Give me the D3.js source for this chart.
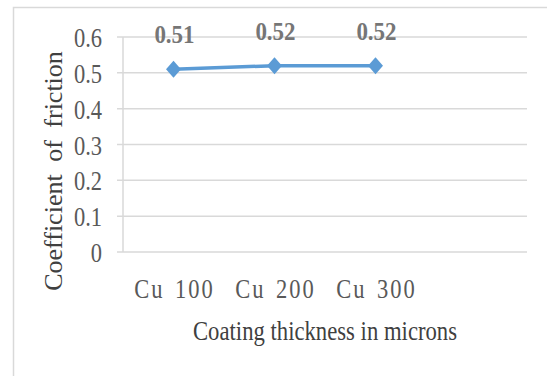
<!DOCTYPE html>
<html>
<head>
<meta charset="utf-8">
<script src="https://cdn.jsdelivr.net/npm/d3@7"></script>
<style>
  body { margin: 0; background: #fff; }
  svg { display: block; }
  text { font-family: "Liberation Serif", "Times New Roman", serif; }
</style>
</head>
<body>
<svg id="chart" width="547" height="376"></svg>
<script>
var categories = ['Cu 100', 'Cu 200', 'Cu 300'];
var friction = [0.51, 0.52, 0.52];
var yTicks = [0, 0.1, 0.2, 0.3, 0.4, 0.5, 0.6];

var W = 547, H = 376;
var plot = {left: 123, right: 527, top: 37, bottom: 252};
// the category axis is laid out in four slots, the last one empty
var slots = 4;
var slotW = (plot.right - plot.left) / slots;

var svg = d3.select('#chart');

var x = d3.scaleBand()
  .domain(categories)
  .range([plot.left, plot.left + slotW * categories.length]);

var y = d3.scaleLinear()
  .domain([0, 0.6])
  .range([plot.bottom, plot.top]);

function cx(d) {
  return x(d) + x.bandwidth() / 2;
}

// text squeezed a little, as in the source picture
function tall(sel, tx, ty, sy) {
  return sel.attr('transform', 'translate(' + tx + ',' + ty + ') scale(1,' + sy + ')');
}

// chart frame
svg.append('rect')
  .attr('x', 13.5)
  .attr('y', 7.5)
  .attr('width', W)
  .attr('height', H)
  .attr('fill', 'none')
  .attr('stroke', '#d9d9d9')
  .attr('stroke-width', 1.5);

// gridlines
svg.append('g')
  .selectAll('line')
  .data(yTicks)
  .join('line')
    .attr('x1', plot.left - 6)
    .attr('x2', plot.right)
    .attr('y1', function(d) { return y(d); })
    .attr('y2', function(d) { return y(d); })
    .attr('stroke', '#d9d9d9')
    .attr('stroke-width', 1.5);

svg.append('line')
  .attr('x1', plot.left)
  .attr('x2', plot.left)
  .attr('y1', y(0.6))
  .attr('y2', y(0))
  .attr('stroke', '#d9d9d9')
  .attr('stroke-width', 1.5);

// y tick labels
svg.append('g')
  .selectAll('text')
  .data(yTicks)
  .join('text')
    .each(function(d) {
      tall(d3.select(this), 102, y(d) + 10, 1.22);
    })
    .attr('text-anchor', 'end')
    .attr('font-size', 22.5)
    .attr('fill', '#595959')
    .text(function(d) { return d3.format('')(+d.toFixed(1)); });

// category labels
svg.append('g')
  .selectAll('text')
  .data(categories)
  .join('text')
    .each(function(d) {
      tall(d3.select(this), cx(d) + 1, 298, 1.2);
    })
    .attr('text-anchor', 'middle')
    .attr('font-size', 22.5)
    .attr('letter-spacing', 2)
    .attr('word-spacing', 3)
    .attr('fill', '#595959')
    .text(function(d) { return d; });

// axis titles
tall(svg.append('text'), (plot.left + plot.right) / 2, 340, 1.2)
  .attr('text-anchor', 'middle')
  .attr('font-size', 22.7)
  .attr('fill', '#404040')
  .text('Coating thickness in microns');

svg.append('text')
  .attr('transform', 'translate(62,171) rotate(-90)')
  .attr('text-anchor', 'middle')
  .attr('font-size', 26)
  .attr('word-spacing', 6)
  .attr('fill', '#404040')
  .text('Coefficient of friction');

// series
var pts = categories.map(function(c, i) {
  return {cat: c, value: friction[i]};
});

var line = d3.line()
  .x(function(d) { return cx(d.cat); })
  .y(function(d) { return y(d.value); });

svg.append('path')
  .datum(pts)
  .attr('d', line)
  .attr('fill', 'none')
  .attr('stroke', '#5b9bd5')
  .attr('stroke-width', 3.5)
  .attr('stroke-linejoin', 'round');

svg.append('g')
  .selectAll('path')
  .data(pts)
  .join('path')
    .attr('transform', function(d) {
      return 'translate(' + cx(d.cat) + ',' + y(d.value) + ')';
    })
    .attr('d', 'M0,-8.5L7.5,0L0,8.5L-7.5,0Z')
    .attr('fill', '#5b9bd5');

// data labels
svg.append('g')
  .selectAll('text')
  .data(pts)
  .join('text')
    .each(function(d) {
      tall(d3.select(this), cx(d.cat) + 1, y(d.value) - 26, 1.14);
    })
    .attr('text-anchor', 'middle')
    .attr('font-size', 23)
    .attr('font-weight', 'bold')
    .attr('fill', '#767676')
    .text(function(d) { return d3.format('.2f')(d.value); });
</script>
</body>
</html>
